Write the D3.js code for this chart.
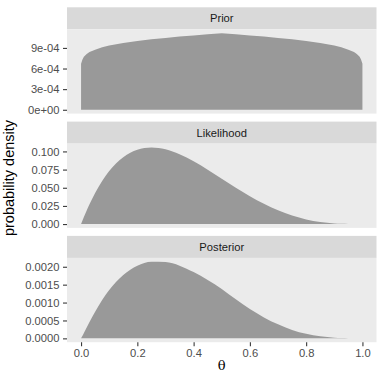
<!DOCTYPE html>
<html>
<head>
<meta charset="utf-8">
<script src="https://cdn.jsdelivr.net/npm/d3@7"></script>
<style>
    body { margin:0; background:#fff; }
    svg { display:block; }
</style>
</head>
<body>
<div id="chart"></div>
<script>
// DATA
const theta = [0, 0.005, 0.01, 0.02, 0.03, 0.05, 0.075, 0.1, 0.15, 0.2, 0.25, 0.3, 0.35, 0.4, 0.45, 0.5,
    0.55, 0.6, 0.65, 0.7, 0.75, 0.8, 0.85, 0.9, 0.925, 0.95, 0.97, 0.98, 0.99, 0.995, 1];

const prior = [6.7e-4, 7.3e-4, 7.7e-4, 8.1e-4, 8.4e-4, 8.75e-4, 9.1e-4, 9.35e-4, 9.7e-4, 10.0e-4, 10.25e-4, 10.45e-4, 10.65e-4, 10.8e-4, 10.98e-4, 11.15e-4,
    10.98e-4, 10.8e-4, 10.65e-4, 10.45e-4, 10.25e-4, 10.0e-4, 9.7e-4, 9.35e-4, 9.1e-4, 8.75e-4, 8.4e-4, 8.1e-4, 7.7e-4, 7.3e-4, 6.7e-4];

const likelihood = [0, 0.0049, 0.0097, 0.0188, 0.0274, 0.0429, 0.0594, 0.0729, 0.0921, 0.1024, 0.1055, 0.1029, 0.0961, 0.0864, 0.0749, 0.0625,
    0.0501, 0.0384, 0.0279, 0.0189, 0.0117, 0.0064, 0.0029, 0.0009, 0.0004, 0.00012, 0.00003, 0.00001, 0, 0, 0];

const posterior = [0, 0.000071, 0.000148, 0.000302, 0.000456, 0.000743, 0.00107, 0.00135, 0.00177, 0.00203, 0.00214, 0.00213, 0.00203, 0.00185, 0.00163, 0.00138,
    0.00109, 0.000821, 0.000586, 0.000391, 0.000237, 0.000127, 0.000056, 0.000017, 0.000007, 0.000002, 0, 0, 0, 0, 0];

const panelNames = ["Prior", "Likelihood", "Posterior"];

const priorTicks = [0, 3e-4, 6e-4, 9e-4];
const priorTickLabels = ["0e+00", "3e-04", "6e-04", "9e-04"];
const likelihoodTicks = [0, 0.025, 0.05, 0.075, 0.1];
const likelihoodTickLabels = ["0.000", "0.025", "0.050", "0.075", "0.100"];
const posteriorTicks = [0, 0.0005, 0.001, 0.0015, 0.002];
const posteriorTickLabels = ["0.0000", "0.0005", "0.0010", "0.0015", "0.0020"];

const xTicks = [0, 0.2, 0.4, 0.6, 0.8, 1];
const xTickLabels = ["0.0", "0.2", "0.4", "0.6", "0.8", "1.0"];

//STYLES
const STYLES = {
    panelFill:"#EBEBEB",
    stripFill:"#D9D9D9",
    stripText:"#1A1A1A",
    areaFill:"#999999",
    tickText:"#4D4D4D",
    tickStroke:"#333333",
    fontFamily:"'Liberation Sans', Arial, Helvetica, sans-serif",
    tickFontSize:11.2
};

function facetPanel() {
    let width = 300;
    let height = 84;
    let stripHeight = 22;
    let xScale;
    let curve = d3.curveMonotoneX;
    let showXAxis = false;

    function panel(selection) {
        selection.each(function (d) {
            const g = d3.select(this);
            const values = d.values;
            const yMax = d3.max(values);

            const yScale = d3.scaleLinear()
                .domain([-yMax * 0.05, yMax * 1.05])
                .range([stripHeight + height, stripHeight]);

            //strip
            g.append("rect")
                .attr("class", "strip-bg")
                .attr("width", width)
                .attr("height", stripHeight)
                .attr("fill", STYLES.stripFill);

            g.append("text")
                .attr("x", width / 2)
                .attr("y", stripHeight / 2)
                .attr("dy", "0.35em")
                .attr("text-anchor", "middle")
                .attr("font-family", STYLES.fontFamily)
                .attr("font-size", STYLES.tickFontSize)
                .attr("fill", STYLES.stripText)
                .text(d.name);

            //bg
            g.append("rect")
                .attr("class", "panel-bg")
                .attr("y", stripHeight)
                .attr("width", width)
                .attr("height", height)
                .attr("fill", STYLES.panelFill);

            const area = d3.area()
                .x((v, i) => xScale(theta[i]))
                .y0(yScale(0))
                .y1(v => yScale(v))
                .curve(curve);

            g.append("path")
                .datum(values)
                .attr("d", area)
                .attr("fill", STYLES.areaFill);

            //y axis
            const yAxis = d3.axisLeft(yScale)
                .tickValues(d.ticks)
                .tickFormat((t, i) => d.tickLabels[i])
                .tickSizeOuter(0)
                .tickSize(4)
                .tickPadding(3.5);

            const yAxisG = g.append("g").call(yAxis);
            styleAxis(yAxisG);

            if(showXAxis){
                const xAxis = d3.axisBottom(xScale)
                    .tickValues(xTicks)
                    .tickFormat((t, i) => xTickLabels[i])
                    .tickSizeOuter(0)
                    .tickSize(4)
                    .tickPadding(2.5);
                const xAxisG = g.append("g")
                    .attr("transform", `translate(0,${stripHeight + height})`)
                    .call(xAxis);
                styleAxis(xAxisG);
            }
        });
        return selection;
    }

    function styleAxis(axisG){
        axisG.select(".domain").remove();
        axisG.selectAll(".tick line")
            .attr("stroke", STYLES.tickStroke)
            .attr("stroke-width", 1.07);
        axisG.selectAll(".tick text")
            .attr("font-family", STYLES.fontFamily)
            .attr("font-size", STYLES.tickFontSize)
            .attr("fill", STYLES.tickText);
    }

    //api
    panel.width = function (value) {
        if (!arguments.length) { return width; }
        width = value;
        return panel;
    };
    panel.height = function (value) {
        if (!arguments.length) { return height; }
        height = value;
        return panel;
    };
    panel.stripHeight = function (value) {
        if (!arguments.length) { return stripHeight; }
        stripHeight = value;
        return panel;
    };
    panel.xScale = function (value) {
        if (!arguments.length) { return xScale; }
        xScale = value;
        return panel;
    };
    panel.curve = function (value) {
        if (!arguments.length) { return curve; }
        curve = value;
        return panel;
    };
    panel.showXAxis = function (value) {
        if (!arguments.length) { return showXAxis; }
        showXAxis = value;
        return panel;
    };

    return panel;
}

const width = 384;
const height = 384;
const margin = { left:67, right:7.5, top:7.3 };
const panelWidth = width - margin.left - margin.right;
const stripHeight = 22;
const panelHeight = 84.3;
const panelGap = 8;

const svg = d3.select("#chart").append("svg")
    .attr("width", width)
    .attr("height", height);

const xScale = d3.scaleLinear()
    .domain([-0.05, 1.05])
    .range([0, panelWidth]);

const panelsData = [
    { name:panelNames[0], values:prior, ticks:priorTicks, tickLabels:priorTickLabels },
    { name:panelNames[1], values:likelihood, ticks:likelihoodTicks, tickLabels:likelihoodTickLabels },
    { name:panelNames[2], values:posterior, ticks:posteriorTicks, tickLabels:posteriorTickLabels }
];

const step = stripHeight + panelHeight + panelGap;

svg.selectAll("g.facet")
    .data(panelsData)
    .enter()
    .append("g")
        .attr("class", "facet")
        .attr("transform", (d,i) => `translate(${margin.left},${margin.top + i * step})`)
        .each(function(d,i){
            d3.select(this).call(facetPanel()
                .width(panelWidth)
                .height(panelHeight)
                .stripHeight(stripHeight)
                .xScale(xScale)
                //prior has a pointed top at 0.5, keep it straight
                .curve(i === 0 ? d3.curveLinear : d3.curveMonotoneX)
                .showXAxis(i === panelsData.length - 1));
        });

//axis titles
svg.append("text")
    .attr("x", margin.left + xScale(0.5))
    .attr("y", 370)
    .attr("text-anchor", "middle")
    .attr("font-family", "'DejaVu Serif', 'Liberation Serif', serif")
    .attr("font-size", 13)
    .attr("fill", "#000")
    .text("θ");

svg.append("text")
    .attr("transform", `translate(13.5,178) rotate(-90)`)
    .attr("text-anchor", "middle")
    .attr("font-family", STYLES.fontFamily)
    .attr("font-size", 14.5)
    .attr("fill", "#000")
    .text("probability density");
</script>
</body>
</html>
